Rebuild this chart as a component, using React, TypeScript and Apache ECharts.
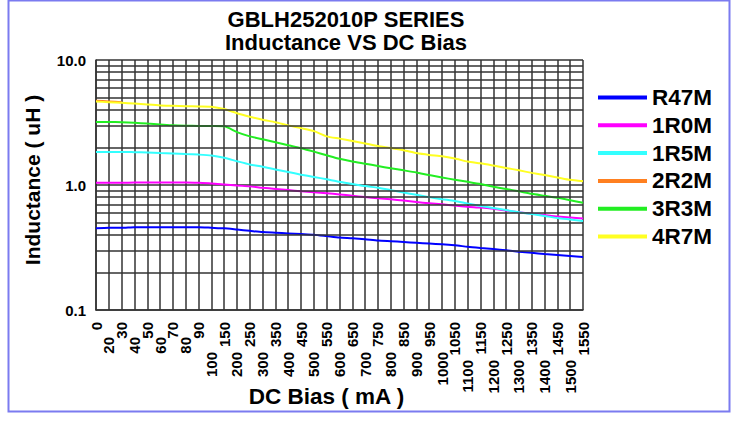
import React, { useEffect, useRef } from "react";
import * as echarts from "echarts";

const categories = ["0","20","30","40","50","60","70","80","90","100","150","200","250","300","350","400","450","500","550","600","650","700","750","800","850","900","950","1000","1050","1100","1150","1200","1250","1300","1350","1400","1450","1500","1550"];

const r47m = [0.45,0.455,0.455,0.46,0.46,0.46,0.46,0.46,0.46,0.455,0.45,0.44,0.43,0.42,0.415,0.41,0.405,0.40,0.39,0.38,0.375,0.368,0.36,0.355,0.35,0.345,0.34,0.335,0.33,0.32,0.313,0.307,0.30,0.293,0.287,0.28,0.275,0.27,0.265];
const r1r0m = [1.04,1.04,1.04,1.045,1.045,1.045,1.045,1.045,1.04,1.03,1.01,0.99,0.975,0.95,0.93,0.91,0.89,0.875,0.86,0.84,0.82,0.80,0.785,0.77,0.75,0.73,0.715,0.70,0.685,0.67,0.66,0.645,0.625,0.605,0.59,0.575,0.56,0.55,0.54];
const r1r5m = [1.84,1.84,1.84,1.83,1.82,1.80,1.79,1.77,1.75,1.72,1.65,1.55,1.46,1.40,1.33,1.27,1.21,1.16,1.11,1.06,1.02,0.98,0.95,0.91,0.87,0.835,0.80,0.77,0.745,0.71,0.68,0.655,0.63,0.605,0.585,0.565,0.545,0.53,0.515];
const r2r2m = [4.72,4.66,4.6,null,null,null,null,null,null,null,null,null,null,null,null,null,null,null,null,null,null,null,null,null,null,null,null,null,null,null,null,null,null,null,null,null,null,null,null];
const r3r3m = [3.19,3.19,3.18,3.15,3.1,3.05,3.0,2.98,2.97,2.96,2.95,2.65,2.45,2.32,2.2,2.08,1.97,1.85,1.73,1.62,1.54,1.48,1.42,1.36,1.31,1.26,1.2,1.15,1.10,1.06,1.02,0.97,0.93,0.89,0.85,0.82,0.79,0.755,0.72];
const r4r7m = [4.65,4.6,4.55,4.48,4.4,4.33,4.3,4.27,4.25,4.23,4.05,3.75,3.52,3.33,3.18,3.0,2.85,2.7,2.45,2.35,2.25,2.15,2.05,1.98,1.9,1.8,1.74,1.7,1.63,1.54,1.49,1.43,1.37,1.31,1.25,1.2,1.15,1.1,1.07];

const seriesNames = ["R47M", "1R0M", "1R5M", "2R2M", "3R3M", "4R7M"];
const seriesColors = ["#0000ff", "#ff00ff", "#33ffff", "#ff8020", "#22ee22", "#ffff22"];
const seriesData = [r47m, r1r0m, r1r5m, r2r2m, r3r3m, r4r7m];

const yMinorLines = [0.2,0.3,0.4,0.5,0.6,0.7,0.8,0.9,2,3,4,5,6,7,8,9];

const FONT = "'Liberation Sans', Arial, Helvetica, sans-serif";
const GRID = "#333333";

export default function App() {
  const ref = useRef<HTMLDivElement>(null);
  useEffect(() => {
    if (!ref.current) return;
    const chart = echarts.init(ref.current, null, { renderer: "svg" });
    const lineSeries = seriesNames.map((name, i) => ({
      name,
      type: "line",
      data: seriesData[i],
      showSymbol: false,
      symbol: "none",
      smooth: 0.2,
      connectNulls: false,
      z: 3,
      lineStyle: { color: seriesColors[i], width: 2 },
      itemStyle: { color: seriesColors[i] },
    }));
    const tickFont = { fontFamily: FONT, fontSize: 15, fontWeight: "bold", color: "#000" };
    chart.setOption({
      animation: false,
      backgroundColor: "#ffffff",
      textStyle: { fontFamily: FONT },
      title: {
        text: "GBLH252010P SERIES\nInductance VS DC Bias",
        left: 341,
        top: 3,
        textAlign: "center",
        textStyle: { fontFamily: FONT, fontSize: 22, fontWeight: "bold", color: "#000", lineHeight: 23 },
      },
      legend: {
        data: seriesNames,
        orient: "vertical",
        left: 598,
        top: 86,
        padding: 0,
        icon: "rect",
        itemWidth: 49,
        itemHeight: 4,
        itemGap: 4.8,
        textStyle: { fontFamily: FONT, fontSize: 22.5, fontWeight: "bold", color: "#000", lineHeight: 21 },
      },
      grid: { left: 96, right: 149, top: 60, bottom: 111, outerBoundsMode: "none", containLabel: false },
      xAxis: {
        type: "category",
        data: categories,
        boundaryGap: false,
        name: "DC Bias ( mA )",
        nameLocation: "middle",
        nameGap: 75,
        nameMoveOverlap: false,
        nameTextStyle: { fontFamily: FONT, fontSize: 22.5, fontWeight: "bold", color: "#000", padding: [0, 26, 0, 0] },
        axisLine: { show: true, lineStyle: { color: GRID, width: 1.5 } },
        axisTick: { show: false },
        splitLine: { show: true, interval: 0, lineStyle: { color: GRID, width: 1.5 } },
        axisLabel: {
          interval: 0,
          rotate: 90,
          margin: 12,
          ...tickFont,
          formatter: (v: string, idx: number) => {
            if (idx % 2 === 0) return "{a|" + v + "}";
            const key = v.length === 2 ? "b" : v.length === 3 || v === "1000" ? "c" : "d";
            return "{" + key + "|" + v + "}";
          },
          rich: {
            a: { ...tickFont },
            b: { ...tickFont, padding: [0, 15, 0, 0] },
            c: { ...tickFont, padding: [0, 30, 0, 0] },
            d: { ...tickFont, padding: [0, 38, 0, 0] },
          },
        },
      },
      yAxis: {
        type: "log",
        logBase: 10,
        min: 0.1,
        max: 10,
        name: "Inductance ( uH )",
        nameLocation: "middle",
        nameGap: 53,
        nameMoveOverlap: false,
        nameTextStyle: { fontFamily: FONT, fontSize: 21, fontWeight: "bold", color: "#000", padding: [0, 0, 0, 10] },
        axisLine: { show: true, lineStyle: { color: GRID, width: 1.5 } },
        axisTick: { show: false },
        splitLine: { show: true, lineStyle: { color: GRID, width: 1.5 } },
        axisLabel: {
          margin: 10,
          ...tickFont,
          formatter: (v: number) => v.toFixed(1),
        },
      },
      series: [
        {
          name: "__grid",
          type: "line",
          data: [],
          z: 1,
          silent: true,
          markLine: {
            silent: true,
            symbol: "none",
            label: { show: false },
            lineStyle: { color: GRID, width: 1.5, type: "solid" },
            emphasis: { disabled: true },
            data: yMinorLines.map((v) => ({ yAxis: v })),
          },
        },
        ...lineSeries,
      ],
      graphic: [
        {
          type: "rect",
          silent: true,
          shape: { x: 8.5, y: 0.5, width: 721, height: 411 },
          style: { fill: "none", stroke: "#7b7bf0", lineWidth: 2 },
        },
      ],
    });
    return () => chart.dispose();
  }, []);
  return (
    <div
      ref={ref}
      style={{ position: "absolute", left: 0, top: 0, width: 732, height: 421 }}
    />
  );
}
